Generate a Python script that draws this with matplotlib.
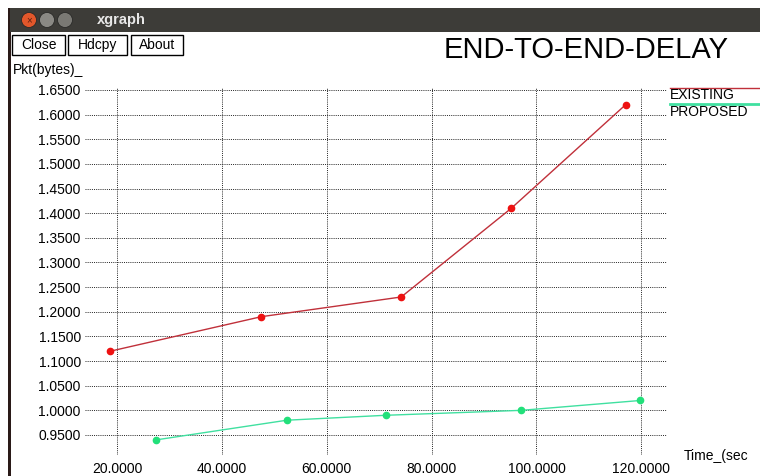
import matplotlib
matplotlib.use("Agg")
import matplotlib.pyplot as plt
from matplotlib.patches import Rectangle, Ellipse

plt.rcParams['font.family'] = ['Liberation Sans', 'DejaVu Sans']

# data
existing_x = [18.7, 47.5, 74.2, 95.2, 117.0]
existing_y = [1.12, 1.19, 1.23, 1.41, 1.62]
proposed_x = [27.4, 52.4, 71.3, 97.1, 119.8]
proposed_y = [0.94, 0.98, 0.99, 1.00, 1.02]
xticks = [20, 40, 60, 80, 100, 120]
yticks = [0.95, 1.00, 1.05, 1.10, 1.15, 1.20, 1.25, 1.30, 1.35, 1.40, 1.45, 1.50, 1.55, 1.60, 1.65]

W, H = 760, 476
fig = plt.figure(figsize=(W / 100, H / 100), dpi=100)

def fx(px):
    return px / W

def fy(py):
    return 1 - py / H

# window chrome
fig.patches.append(Rectangle((fx(8), fy(476)), fx(3), 468 / H, transform=fig.transFigure,
                             facecolor='#2a1a18', edgecolor='none', zorder=1))
fig.patches.append(Rectangle((fx(10), fy(32)), fx(750), 24 / H, transform=fig.transFigure,
                             facecolor='#3d3c38', edgecolor='none', zorder=1))
for cx, col in [(29, '#e2572b'), (47, '#8a8984'), (65, '#7a7974')]:
    fig.patches.append(Ellipse((fx(cx), fy(20)), 15 / W, 15 / H, transform=fig.transFigure,
                               facecolor=col, edgecolor='#2a2a28', lw=0.6, zorder=2))
fig.text(fx(29), fy(20), '×', color='#5a2010', fontsize=7, ha='center', va='center')
fig.text(fx(97), fy(20), 'xgraph', color='#e8e8e8', fontsize=10.5, fontweight='bold',
         va='center', ha='left')

for x0, x1, lab in [(12, 65, 'Close'), (68, 127, 'Hdcpy'), (131, 183, 'About')]:
    fig.patches.append(Rectangle((fx(x0), fy(55)), fx(x1 - x0), 20 / H, transform=fig.transFigure,
                                 facecolor='white', edgecolor='black', lw=1, zorder=2))
    fig.text(fx((x0 + x1) / 2), fy(45), lab, fontsize=10, ha='center', va='center')

fig.text(fx(586), fy(50), 'END-TO-END-DELAY', fontsize=21, ha='center', va='center')
fig.text(fx(13), fy(70), 'Pkt(bytes)_', fontsize=10, ha='left', va='center')
fig.text(fx(684), fy(456), 'Time_(sec', fontsize=10, ha='left', va='center')

# legend, line above each name like xgraph does
fig.lines.append(plt.Line2D([fx(670), fx(760)], [fy(88), fy(88)], transform=fig.transFigure,
                            color='#c0303a', lw=1))
fig.text(fx(670), fy(95), 'EXISTING', fontsize=10, ha='left', va='center')
fig.lines.append(plt.Line2D([fx(670), fx(760)], [fy(104), fy(104)], transform=fig.transFigure,
                            color='#40e0a0', lw=2))
fig.text(fx(670), fy(112), 'PROPOSED', fontsize=10, ha='left', va='center')

# plot area
ax = fig.add_axes([fx(85), fy(455), fx(667 - 85), (455 - 88) / H])
ax.set_zorder(5)
ax.set_facecolor('none')
ax.plot(existing_x, existing_y, color='#c0303a', lw=1)
ax.plot(existing_x, existing_y, 'o', color='#ee1111', ms=4.5)
ax.plot(proposed_x, proposed_y, color='#40e0a0', lw=1)
ax.plot(proposed_x, proposed_y, 'o', color='#22e07a', ms=4.5)

ax.set_xlim(13.88, 124.9)
ax.set_ylim(0.9094, 1.654)
ax.set_xticks(xticks)
ax.set_xticklabels(['%.4f' % v for v in xticks])
ax.set_yticks(yticks)
ax.set_yticklabels(['%.4f' % v for v in yticks])
ax.tick_params(length=0, labelsize=10, pad=3)
ax.tick_params(axis='x', pad=5)
ax.grid(True, color='#222222', linestyle=(0, (1, 1.2)), lw=0.7)
ax.set_axisbelow(True)
for s in ax.spines.values():
    s.set_visible(False)

fig.savefig('out.png', dpi=100)
